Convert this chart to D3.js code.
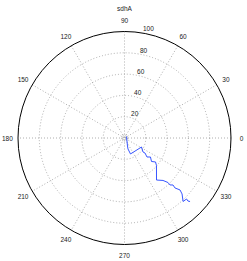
<!DOCTYPE html>
<html>
<head>
<meta charset="utf-8">
<script src="https://cdn.jsdelivr.net/npm/d3@7"></script>
<style>
  html, body { margin: 0; padding: 0; background: #fff; }
  text { font-family: "Liberation Sans", Arial, sans-serif; fill: #222; }
</style>
</head>
<body>
<svg id="chart"></svg>
<script>
// polar data (theta in degrees, r)
const thetaDeg = [36.9, 290.6, 287.7, 290.6, 312.6, 332.1, 322.9, 323.8, 319.8, 323.8, 319.0, 322.3, 319.3,
  307.3, 312.2, 314.3, 314.1, 315.9, 315.3, 316.9, 315.8, 312.7, 315.5, 315.2, 315.9];
const rVals = [2.35, 8.0, 10.8, 16.0, 15.95, 18.06, 21.8, 23.85, 27.65, 30.2, 33.6, 36.8, 39.6,
  49.6, 53.8, 58.4, 61.4, 63.4, 66.7, 71.4, 75.4, 81.1, 81.7, 84.0, 85.7];
const ringTicks = [20, 40, 60, 80, 100];
const angleTicks = [0, 30, 60, 90, 120, 150, 180, 210, 240, 270, 300, 330];
const rMax = 100;
const title = "sdhA";

const width = 247, height = 261;
const cx = 124.5, cy = 138, R = 106.5;

const svg = d3.select('#chart')
  .attr('width', width)
  .attr('height', height);

const g = svg.append('g')
  .attr('transform', `translate(${cx}, ${cy})`);

const rScale = d3.scaleLinear().domain([0, rMax]).range([0, R]);
const toRad = d => d * Math.PI / 180;
const px = (t, r) => rScale(r) * Math.cos(toRad(t));
const py = (t, r) => -rScale(r) * Math.sin(toRad(t));

// rings
g.selectAll('.ring')
  .data(ringTicks.filter(d => d < rMax))
  .enter().append('circle')
  .attr('r', d => rScale(d))
  .attr('fill', 'none')
  .attr('stroke', '#999')
  .attr('stroke-width', 0.8)
  .attr('stroke-dasharray', '1,2');

// tiny center ring
g.append('circle')
  .attr('r', 3)
  .attr('fill', 'none')
  .attr('stroke', '#999')
  .attr('stroke-width', 0.8)
  .attr('stroke-dasharray', '1,1');

// spokes
g.selectAll('.spoke')
  .data(angleTicks.slice(0, 6))
  .enter().append('line')
  .attr('x1', d => px(d, rMax))
  .attr('y1', d => py(d, rMax))
  .attr('x2', d => px(d + 180, rMax))
  .attr('y2', d => py(d + 180, rMax))
  .attr('stroke', '#999')
  .attr('stroke-width', 0.8)
  .attr('stroke-dasharray', '1,2');

// outer circle
g.append('circle')
  .attr('r', rScale(rMax))
  .attr('fill', 'none')
  .attr('stroke', '#000')
  .attr('stroke-width', 1);

// radial labels at 82 degrees
g.selectAll('.rlabel')
  .data(ringTicks)
  .enter().append('text')
  .attr('x', d => px(82, d + rMax / 100) + 3.5)
  .attr('y', d => py(82, d + rMax / 100))
  .attr('font-size', 6.5)
  .text(d => d);

// angle labels
g.selectAll('.alabel')
  .data(angleTicks)
  .enter().append('text')
  .attr('x', d => px(d, rMax * 1.1))
  .attr('y', d => py(d, rMax * 1.1))
  .attr('text-anchor', 'middle')
  .attr('dominant-baseline', 'central')
  .attr('font-size', 6.5)
  .text(d => d);

// data line
const line = d3.line()
  .x((d, i) => px(thetaDeg[i], d))
  .y((d, i) => py(thetaDeg[i], d));

g.append('path')
  .attr('d', line(rVals))
  .attr('fill', 'none')
  .attr('stroke', '#2244ff')
  .attr('stroke-width', 0.9);

// title
svg.append('text')
  .attr('x', cx)
  .attr('y', 8.5)
  .attr('text-anchor', 'middle')
  .attr('dominant-baseline', 'central')
  .attr('font-size', 6.5)
  .text(title);
</script>
</body>
</html>
